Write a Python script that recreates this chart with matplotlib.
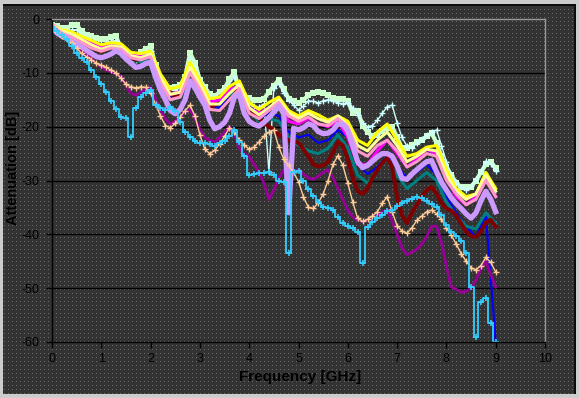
import numpy as np
import matplotlib
matplotlib.use("Agg")
import matplotlib.pyplot as plt

# ---------------- data ----------------
freq = np.round(np.arange(0, 9.01, 0.1), 1)     # 91 points, GHz
freq2 = np.round(np.arange(0, 9.01, 0.2), 1)    # 46 points, GHz

green = [-1.1, -1.3, -1.6, -1.6, -1.2, -1.1, -2.3, -2.9, -3.2, -3.5,
         -3.8, -3.7, -3.4, -3.2, -5.6, -6.4, -7.1, -6.9, -6.2, -5.5,
         -5.1, -8.6, -10.9, -12.3, -12.8, -12.7, -12.3, -10.8, -6.3, -8.2,
         -11.3, -12.7, -14.0, -14.3, -13.6, -12.9, -11.2, -9.8, -13.6, -14.3,
         -14.7, -15.0, -15.1, -14.8, -13.6, -12.4, -11.3, -13.0, -14.8, -15.3,
         -15.6, -15.0, -14.2, -13.7, -13.5, -13.8, -14.2, -14.7, -14.8, -14.9,
         -15.2, -17.5, -17.0, -19.8, -21.0, -21.8, -21.5, -20.8, -20.2, -20.0,
         -22.0, -24.0, -24.0, -23.4, -22.9, -22.5, -21.8, -21.2, -23.0, -25.5,
         -27.5, -29.0, -30.5, -31.2, -31.3, -31.2, -30.0, -28.5, -27.0, -26.5,
         -27.7]

light_cyan = [-1.2, -1.6, -2.0, -2.2, -2.0, -2.0, -3.0, -3.6, -4.0, -4.4,
              -4.7, -4.5, -4.1, -4.0, -6.0, -7.0, -7.8, -7.6, -7.0, -6.4,
              -6.0, -9.0, -11.5, -12.8, -13.2, -13.2, -12.8, -11.5, -7.5, -9.0,
              -11.8, -13.2, -14.5, -14.8, -14.2, -13.4, -12.0, -10.8, -14.0, -15.2,
              -15.8, -16.2, -16.4, -15.8, -28.4, -12.8, -12.0, -13.8, -15.0, -16.0,
              -16.9, -16.2, -15.2, -15.3, -15.6, -15.2, -15.0, -15.2, -15.6, -15.7,
              -15.6, -16.5, -17.8, -19.3, -20.0, -19.8, -18.8, -17.5, -16.3, -16.0,
              -19.3, -22.0, -23.6, -24.0, -23.0, -22.2, -21.6, -21.0, -20.6, -23.5,
              -26.5, -29.0, -30.3, -31.2, -31.8, -31.0, -29.8, -28.3, -26.4, -27.0,
              -28.2]

lavender = [-1.5, -2.6, -3.2, -3.6, -4.2, -4.7, -5.2, -5.8, -6.4, -7.0,
            -7.2, -6.9, -6.5, -5.9, -6.4, -7.4, -8.2, -9.0, -8.8, -8.3,
            -8.0, -10.8, -13.2, -15.0, -17.0, -17.6, -16.8, -15.0, -11.5, -12.8,
            -14.5, -16.0, -18.8, -20.4, -20.0, -19.2, -17.5, -14.5, -14.0, -17.5,
            -19.0, -19.6, -19.9, -19.2, -18.3, -17.3, -16.2, -17.5, -36.0, -20.3,
            -20.6, -20.2, -19.5, -19.8, -20.9, -21.3, -21.2, -20.6, -19.5, -19.6,
            -20.8, -23.5, -26.5, -27.6, -27.2, -26.4, -25.6, -25.0, -25.0, -25.5,
            -27.3, -29.6, -29.8, -28.8, -28.0, -27.2, -26.5, -26.3, -28.4, -30.3,
            -31.8, -33.2, -34.3, -35.2, -36.2, -37.0, -36.0, -33.8, -32.0, -33.5,
            -35.8]

orange = [-1.6, -2.4, -3.1, -3.8, -4.5, -5.4, -6.4, -7.0, -7.6, -8.2,
          -8.6, -9.0, -9.5, -10.0, -11.0, -12.1, -12.6, -12.8, -12.6, -12.7,
          -13.8, -15.8, -18.0, -19.8, -20.2, -19.4, -18.2, -17.0, -16.0, -18.0,
          -21.5, -24.2, -25.0, -24.4, -23.2, -21.8, -20.2, -21.0, -22.5, -23.4,
          -24.2, -23.8, -22.8, -21.8, -21.0, -20.6, -23.8, -26.0, -27.2, -28.5,
          -30.2, -33.0, -35.0, -35.2, -34.2, -32.5, -30.0, -27.0, -25.4, -27.2,
          -30.5, -34.0, -37.0, -37.6, -37.2, -36.6, -35.8, -34.2, -33.0, -35.8,
          -38.4, -39.4, -39.8, -38.8, -37.4, -36.6, -35.8, -35.5, -36.2, -37.2,
          -38.8, -40.2, -41.8, -43.6, -45.0, -46.2, -46.6, -45.8, -44.3, -45.2,
          -47.0]

cyan = [-1.4, -2.2, -3.0, -3.8, -5.0, -6.4, -7.2, -8.0, -9.4, -10.8,
        -12.0, -13.6, -15.2, -16.8, -18.2, -18.3, -22.0, -16.5, -14.5, -13.8,
        -13.2, -16.0, -16.6, -16.9, -16.4, -17.0, -19.2, -21.0, -22.0, -22.6,
        -23.0, -23.0, -23.2, -23.5, -23.0, -22.6, -21.8, -20.6, -22.8, -25.5,
        -29.0, -28.8, -28.6, -28.6, -28.4, -29.0, -30.0, -30.2, -43.5, -28.5,
        -28.2, -30.0, -31.5, -32.8, -34.0, -34.9, -35.2, -35.5, -36.8, -37.9,
        -38.4, -38.8, -39.6, -45.3, -38.6, -37.8, -37.0, -36.4, -35.6, -35.4,
        -34.8, -34.2, -33.8, -33.4, -33.0, -33.2, -33.8, -34.4, -34.9, -36.5,
        -38.2, -39.5, -40.4, -41.2, -43.5, -49.8, -59.0, -52.5, -51.8, -56.5,
        -60.0]

purple = [-1.5, -2.3, -3.0, -3.6, -4.3, -5.0, -5.8, -6.6, -7.4, -8.2,
          -8.9, -9.5, -9.8, -10.2, -10.6, -12.4, -13.8, -14.2, -13.6, -13.0,
          -12.6, -14.8, -17.0, -18.5, -19.5, -19.0, -18.2, -17.2, -16.8, -18.5,
          -20.5, -22.0, -22.5, -22.8, -22.0, -21.0, -20.0, -21.5, -24.0, -25.0,
          -25.6, -27.0, -28.5, -30.5, -33.5, -31.8, -29.5, -28.0, -29.0, -28.5,
          -28.0, -28.8, -29.5, -29.8, -29.2, -28.5, -28.0, -29.5, -31.5, -33.5,
          -35.5, -36.8, -37.4, -37.6, -37.4, -37.0, -36.4, -35.8, -35.5, -37.5,
          -40.0, -42.5, -43.8, -43.3, -42.8, -41.8, -40.4, -38.5, -38.5, -41.5,
          -46.0, -49.8, -50.2, -50.8, -50.6, -50.0, -48.5, -46.4, -45.0, -47.5,
          -49.8]

dark_red = [-1.4, -2.2, -2.8, -3.2, -3.5, -3.8, -4.3, -4.8, -5.3, -5.7,
            -6.0, -5.7, -5.4, -5.0, -5.8, -6.6, -7.2, -7.6, -7.4, -7.2,
            -7.0, -9.5, -11.2, -12.5, -13.6, -14.5, -14.0, -12.2, -10.0, -11.5,
            -13.0, -14.8, -16.5, -16.0, -14.5, -13.8, -13.2, -13.0, -14.2, -15.5,
            -16.6, -17.6, -18.5, -19.3, -20.0, -20.5, -21.5, -22.0, -22.5, -22.8,
            -23.0, -24.2, -25.5, -27.0, -27.4, -27.2, -26.5, -24.8, -22.8, -23.5,
            -26.0, -29.5, -32.0, -32.5, -31.5, -29.5, -28.0, -26.8, -25.8, -27.5,
            -33.0, -36.5, -37.9, -36.0, -34.5, -33.0, -31.8, -31.2, -32.5, -34.2,
            -35.2, -35.6, -36.5, -38.0, -39.5, -40.3, -40.5, -39.5, -37.8, -37.3,
            -38.6]

blue = [-1.3, -2.5, -3.0, -3.8, -4.6, -5.4, -5.0, -5.5, -7.0, -7.2,
        -7.0, -11.5, -14.5, -14.0, -9.5, -12.5, -16.2, -16.5, -14.0, -13.0,
        -17.0, -18.5, -17.5, -18.0, -21.0, -22.0, -21.5, -23.0, -22.5, -20.6,
        -22.0, -27.0, -28.8, -27.5, -25.5, -27.5, -29.5, -28.5, -27.0, -29.0,
        -33.0, -36.0, -38.5, -40.5, -36.5, -60.0]

teal = [-1.3, -2.6, -3.2, -4.2, -5.2, -6.0, -5.6, -6.0, -7.5, -8.0,
        -7.4, -12.0, -15.0, -14.6, -10.5, -13.0, -16.5, -15.0, -14.0, -13.5,
        -17.0, -19.0, -18.5, -19.0, -22.0, -23.5, -24.5, -25.0, -24.0, -21.5,
        -24.0, -29.0, -30.5, -28.0, -26.0, -29.0, -31.5, -30.0, -28.5, -30.0,
        -34.0, -36.5, -38.5, -39.0, -36.0, -38.0]

yellow = [-1.2, -2.0, -2.4, -3.2, -4.0, -4.8, -4.4, -4.6, -6.2, -6.4,
          -6.0, -10.2, -13.0, -12.5, -8.0, -11.5, -14.8, -14.5, -12.5, -11.5,
          -15.5, -16.8, -15.5, -14.5, -17.0, -18.0, -17.0, -17.8, -18.8, -18.0,
          -19.0, -22.5, -23.5, -21.0, -19.5, -22.5, -25.5, -25.0, -23.8, -23.5,
          -28.0, -31.5, -33.0, -32.5, -28.5, -31.5]

magenta = [-1.0, -2.2, -2.8, -3.6, -4.4, -5.2, -4.8, -5.0, -6.6, -7.0,
           -6.6, -11.0, -14.0, -13.5, -9.0, -12.0, -15.5, -15.0, -13.0, -12.5,
           -16.5, -17.5, -16.5, -16.0, -19.0, -19.5, -18.5, -19.5, -20.0, -19.0,
           -22.0, -27.0, -27.0, -24.5, -22.5, -25.0, -27.5, -26.0, -24.2, -25.0,
           -29.5, -33.0, -34.5, -33.0, -29.5, -33.0]

pink = [-1.2, -2.6, -3.4, -4.4, -5.4, -6.0, -5.4, -5.6, -7.2, -7.6,
        -7.0, -11.8, -15.0, -14.5, -10.0, -13.0, -16.8, -17.0, -15.0, -13.0,
        -17.5, -18.5, -17.0, -15.5, -18.0, -19.0, -18.2, -19.5, -19.8, -18.5,
        -20.0, -24.5, -25.5, -23.5, -22.5, -24.5, -27.5, -26.5, -25.0, -25.5,
        -30.0, -32.5, -34.5, -33.5, -30.0, -33.0]

light_yellow = [-1.1, -2.2, -2.8, -3.8, -4.8, -5.6, -5.0, -5.2, -6.8, -7.2,
                -6.5, -11.0, -14.0, -13.6, -9.0, -12.2, -15.8, -15.8, -13.8, -12.2,
                -16.5, -17.8, -16.5, -15.0, -17.5, -18.5, -17.5, -18.5, -19.2, -18.0,
                -19.8, -23.5, -24.5, -22.5, -21.0, -23.5, -26.5, -25.5, -24.2, -24.5,
                -29.0, -32.0, -33.5, -32.5, -29.0, -32.0]

x_ticks = [0, 1, 2, 3, 4, 5, 6, 7, 8, 9, 10]
y_ticks = [0, -10, -20, -30, -40, -50, -60]
x_label = "Frequency [GHz]"
y_label = "Attenuation [dB]"

# ---------------- figure ----------------
W, H, DPI = 579, 398, 100
plt.rcParams['font.family'] = ['Liberation Sans', 'DejaVu Sans']
plt.rcParams['axes.unicode_minus'] = False
fig = plt.figure(figsize=(W / DPI, H / DPI), dpi=DPI)

# background: light outer frame, dark dotted panel
bg = np.empty((H, W, 3))
bg[:] = np.array([0.80, 0.80, 0.80])
bg[4:394, 3:575] = np.array([0.20, 0.20, 0.20])
bg[4:394, 3:575][1::4, 1::4] = np.array([0.42, 0.42, 0.42])
bg[4:6, 3:575] = np.array([0.05, 0.05, 0.05])
bg[4:394, 574:576] = np.array([0.05, 0.05, 0.05])
fig.figimage(bg, xo=0, yo=0, origin='upper', zorder=-5)

ax = fig.add_axes([52 / W, 1 - 342 / H, (545 - 52) / W, (342 - 19) / H])
ax.set_facecolor('none')

# series (later ones drawn on top)
ax.plot(freq, green, color='#CCFFCC', lw=3, marker='s', ms=4, mew=0)
ax.plot(freq, light_cyan, color='#CCFFFF', lw=1, marker='+', ms=4, mew=1)
ax.plot(freq2, blue, color='#0000FF', lw=1.5)
ax.plot(freq2, teal, color='#008080', lw=2.2)
ax.plot(freq, dark_red, color='#800000', lw=2.8)
ax.plot(freq, purple, color='#990099', lw=2.0)
ax.plot(freq2, magenta, color='#FF00FF', lw=2.2)
ax.plot(freq2, yellow, color='#FFFF00', lw=2.2)
ax.plot(freq2, light_yellow, color='#FFFF99', lw=2.2)
ax.plot(freq2, pink, color='#FF99CC', lw=2.2)
ax.plot(freq, lavender, color='#CC99FF', lw=3.8)
ax.plot(freq, orange, color='#FFCC99', lw=1, marker='+', ms=4, mew=1)
ax.plot(freq, cyan, color='#33CCFF', lw=1.3, marker='+', ms=5, mew=1.2,
        drawstyle='steps-mid')

ax.set_xlim(0, 10)
ax.set_ylim(-60, 0)
ax.set_xticks(x_ticks)
ax.set_yticks(y_ticks)
ax.set_xticklabels([str(t) for t in x_ticks])
ax.set_yticklabels([str(t) for t in y_ticks])
ax.tick_params(direction='out', length=4, width=1, color='black',
               labelcolor='black', labelsize=9)
ax.tick_params(axis='y', pad=5)
ax.tick_params(axis='x', pad=4)

for t in y_ticks[1:-1]:
    ax.axhline(t, color='black', lw=1, zorder=0.5)

for s in ('left', 'bottom'):
    ax.spines[s].set_color('black')
    ax.spines[s].set_linewidth(1)
for s in ('top', 'right'):
    ax.spines[s].set_color('#9a9a9a')
    ax.spines[s].set_linewidth(1)
    ax.spines[s].set_linestyle((0, (1, 1)))

ax.set_xlabel(x_label, fontsize=11, fontweight='bold', color='black')
ax.set_ylabel(y_label, fontsize=10.5, fontweight='bold', color='black')
ax.xaxis.set_label_coords((300 - 52) / 493, -(370 - 342) / 323)
ax.yaxis.set_label_coords(-(52 - 20) / 493, (342 - 168) / 323)

fig.savefig('out.png', dpi=DPI)
